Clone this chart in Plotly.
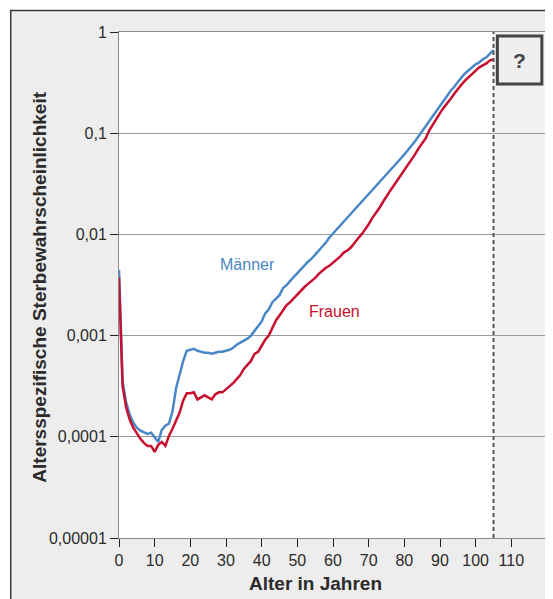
import plotly.graph_objects as go

ages = list(range(0, 106))

maenner = [
    0.00447, 0.000355, 0.000219, 0.000166, 0.000138, 0.000123, 0.000115, 0.000110, 0.000107, 0.000110,
    0.000100, 0.0000891, 0.000117, 0.000129, 0.000135, 0.000178, 0.000302, 0.000417, 0.000562, 0.000708,
    0.000724, 0.000741, 0.000708, 0.000692, 0.000676, 0.000676, 0.000661, 0.000676, 0.000692, 0.000692,
    0.000708, 0.000724, 0.000759, 0.000813, 0.000851, 0.000891, 0.000933, 0.00100, 0.00112, 0.00123,
    0.00138, 0.00166, 0.00182, 0.00214, 0.00234, 0.00251, 0.00295, 0.00316, 0.00347, 0.00380,
    0.00407, 0.00457, 0.00490, 0.00537, 0.00575, 0.00631, 0.00676, 0.00759, 0.00832, 0.00933,
    0.0102, 0.0112, 0.0123, 0.0135, 0.0145, 0.0158, 0.0174, 0.0191, 0.0209, 0.0229,
    0.0251, 0.0275, 0.0302, 0.0324, 0.0355, 0.0389, 0.0427, 0.0468, 0.0513, 0.0562,
    0.0617, 0.0676, 0.0759, 0.0832, 0.0933, 0.105, 0.117, 0.132, 0.148, 0.166,
    0.186, 0.209, 0.234, 0.263, 0.288, 0.324, 0.355, 0.389, 0.417, 0.447,
    0.479, 0.501, 0.537, 0.562, 0.603, 0.661,
]

frauen = [
    0.00372, 0.000316, 0.000195, 0.000148, 0.000123, 0.000107, 0.0000955, 0.0000871, 0.0000813, 0.0000813,
    0.0000708, 0.0000832, 0.0000891, 0.0000813, 0.000102, 0.000120, 0.000145, 0.000174, 0.000229, 0.000269,
    0.000269, 0.000275, 0.000234, 0.000245, 0.000257, 0.000245, 0.000234, 0.000263, 0.000275, 0.000275,
    0.000295, 0.000316, 0.000339, 0.000372, 0.000407, 0.000468, 0.000513, 0.000562, 0.000661, 0.000692,
    0.000794, 0.000912, 0.00100, 0.00120, 0.00141, 0.00158, 0.00178, 0.00200, 0.00214, 0.00234,
    0.00257, 0.00275, 0.00302, 0.00324, 0.00347, 0.00372, 0.00407, 0.00437, 0.00468, 0.00490,
    0.00525, 0.00562, 0.00603, 0.00661, 0.00692, 0.00741, 0.00832, 0.00912, 0.0100, 0.0112,
    0.0126, 0.0145, 0.0162, 0.0182, 0.0209, 0.0240, 0.0269, 0.0302, 0.0339, 0.0380,
    0.0437, 0.0490, 0.0550, 0.0617, 0.0708, 0.0794, 0.0891, 0.107, 0.123, 0.141,
    0.158, 0.178, 0.200, 0.219, 0.245, 0.275, 0.302, 0.331, 0.355, 0.389,
    0.417, 0.447, 0.468, 0.490, 0.525, 0.537,
]

y_tickvals = [0.00001, 0.0001, 0.001, 0.01, 0.1, 1]
y_ticktext = ["0,00001", "0,0001", "0,001", "0,01", "0,1", "1"]
x_tickvals = [0, 10, 20, 30, 40, 50, 60, 70, 80, 90, 100, 110]

BLUE = "#4A87C6"
RED = "#C8102E"
TXT = "#2b2b2b"
FONT = "Liberation Sans, Arial, sans-serif"

fig = go.Figure()
fig.add_trace(go.Scatter(x=ages, y=maenner, mode="lines", name="Männer",
                         line=dict(color=BLUE, width=2.5)))
fig.add_trace(go.Scatter(x=ages, y=frauen, mode="lines", name="Frauen",
                         line=dict(color=RED, width=2.5)))

shapes = [
    # outer frame
    dict(type="rect", xref="paper", yref="paper", x0=-0.253, x1=1.2, y0=-0.3, y1=1.0425,
         fillcolor="#EDEDED", line=dict(color="#3a3a3a", width=1.5), layer="below"),
    # white data region
    dict(type="rect", xref="x", yref="paper", x0=0, x1=105, y0=0, y1=1,
         fillcolor="white", line=dict(width=0), layer="below"),
    # light grey region beyond 105
    dict(type="rect", xref="x", yref="paper", x0=105, x1=120, y0=0, y1=1,
         fillcolor="#F1F1F1", line=dict(width=0), layer="between"),
    # dashed line at 105
    dict(type="line", xref="x", yref="paper", x0=105, x1=105, y0=0, y1=1,
         line=dict(color="#555555", width=2, dash="4px,3px"), layer="above"),
    # question box
    dict(type="rect", xref="paper", yref="paper", x0=0.884, x1=0.988, y0=0.897, y1=0.992,
         fillcolor="#EFEFEF", line=dict(color="#444444", width=3), layer="above"),
]

annotations = [
    dict(text="?", xref="paper", yref="paper", x=0.936, y=0.9445, showarrow=False,
         font=dict(family=FONT, size=21, color="#444444", weight="bold"),
         xanchor="center", yanchor="middle"),
    dict(text="Männer", xref="x", yref="y", x=36, y=-2.30, showarrow=False,
         font=dict(family=FONT, size=16, color=BLUE), xanchor="center", yanchor="middle"),
    dict(text="Frauen", xref="x", yref="y", x=60.4, y=-2.76, showarrow=False,
         font=dict(family=FONT, size=16, color=RED), xanchor="center", yanchor="middle"),
    dict(text="Alter in Jahren", xref="x", yref="paper", x=55, y=-0.089, showarrow=False,
         font=dict(family=FONT, size=19, color=TXT, weight="bold"),
         xanchor="center", yanchor="middle"),
    dict(text="Altersspezifische Sterbewahrscheinlichkeit", xref="paper", yref="paper",
         x=-0.1877, y=0.496, showarrow=False, textangle=-90,
         font=dict(family=FONT, size=19, color=TXT, weight="bold"),
         xanchor="center", yanchor="middle"),
]

# the page adds an 8px body margin, so the figure is made 8px smaller on each side
fig.update_layout(
    width=545, height=591,
    margin=dict(l=110.5, r=6, t=24, b=61, pad=0),
    paper_bgcolor="white",
    plot_bgcolor="rgba(0,0,0,0)",
    showlegend=False,
    font=dict(family=FONT, size=16, color=TXT),
    shapes=shapes,
    annotations=annotations,
    xaxis=dict(range=[0, 120], tickvals=x_tickvals, ticks="outside", ticklen=8,
               tickcolor="#222222", tickwidth=1, showline=True, linecolor="#8a8a8a",
               linewidth=1, mirror=True, showgrid=False, zeroline=False,
               tickfont=dict(family=FONT, size=16, color=TXT)),
    yaxis=dict(type="log", range=[-5, 0], tickvals=y_tickvals, ticktext=y_ticktext,
               ticks="outside", ticklen=8, tickcolor="#222222", tickwidth=1,
               showline=True, linecolor="#8a8a8a", linewidth=1, mirror=True,
               showgrid=True, gridcolor="#9a9a9a", gridwidth=1, zeroline=False,
               tickfont=dict(family=FONT, size=16, color=TXT)),
)

fig.write_html("out.html")
